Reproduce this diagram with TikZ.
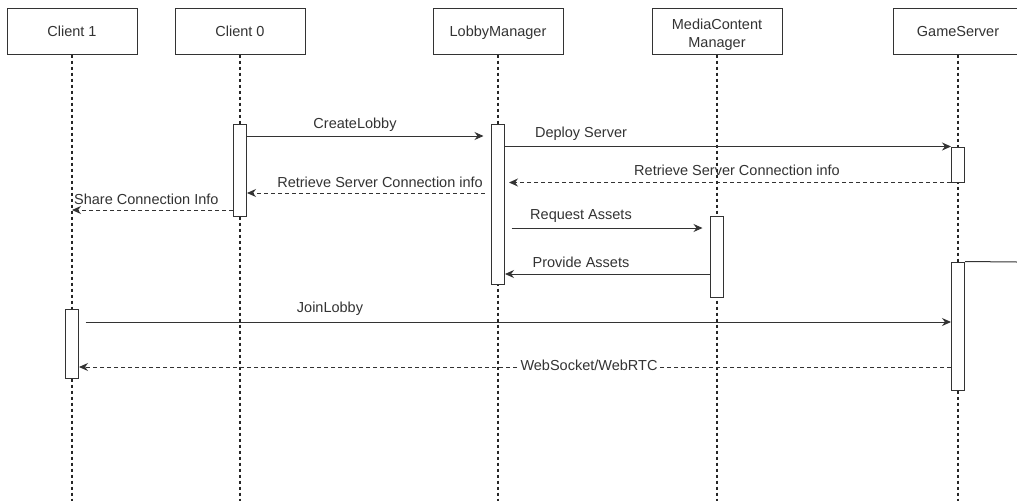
\documentclass[tikz,border=0pt]{standalone}
\usepackage{fontspec}
\setmainfont{Liberation Sans}
\usetikzlibrary{arrows.meta}
\begin{document}
\begin{tikzpicture}[x=1pt,y=-1pt,
  actor/.style={draw=black!80, line width=1pt, fill=white, minimum width=130pt,
    minimum height=46pt, inner sep=0pt, align=center,
    font=\fontsize{14.5}{18}\selectfont, text=black!80},
  oneline/.style={text height=13pt, text depth=3pt},
  lifeline/.style={draw=black!85, line width=1.1pt, dash pattern=on 3pt off 3pt},
  actbox/.style={draw=black!80, line width=1pt, fill=white, minimum width=13pt, inner sep=0pt},
  msg/.style={draw=black!80, line width=1pt, -{Stealth[length=9pt,width=8pt]}},
  reply/.style={msg, dash pattern=on 4pt off 3pt},
  lbl/.style={font=\fontsize{14.5}{17}\selectfont, text=black!80, inner sep=1pt},
]
\useasboundingbox (0,0) rectangle (1017,501);
\fill[white] (0,0) rectangle (1017,501);

% participants (single-line names share one baseline)
\node[actor, oneline] (c1) at (72,31) {Client 1};
\node[actor, oneline] (c0) at (240,31) {Client 0};
\node[actor, oneline] (lm) at (498,31) {LobbyManager};
\node[actor] (mc) at (717,31) {};
\node[font=\fontsize{14.5}{18}\selectfont, text=black!80, align=center, inner sep=0pt]
  (mcname) at (717,35) {MediaContent\\Manager};
\node[actor, oneline] (gs) at (958,31) {GameServer};

% lifelines
\foreach \p in {c1,c0,lm,mc,gs}
  \draw[lifeline] (\p.south) -- (\p |- 0,501);

% activation bars
\node[actbox, minimum height=92pt]  (act0)  at (240,170) {};
\node[actbox, minimum height=160pt] (actL)  at (498,204) {};
\node[actbox, minimum height=35pt]  (actG1) at (958,164.5) {};
\node[actbox, minimum height=81pt]  (actM)  at (717,256.5) {};
\node[actbox, minimum height=128pt] (actG2) at (958,326) {};
\node[actbox, minimum height=69pt]  (act1)  at (72,343.5) {};

% messages
\draw[msg, shorten >=7.5pt] (act0.east |- 0,136) -- (actL.west |- 0,136);
\node[lbl] (tCreate) at (355,125) {CreateLobby};

\draw[msg] (actL.east |- actG1.north west) -- (actG1.north west);
\node[lbl] (tDeploy) at (581,134) {Deploy Server};

\draw[reply, shorten >=4pt] (actG1.south west) -- (actL.east |- actG1.south west);
\node[lbl] (tRetR) at (737,170) {Retrieve Server Connection info};

\draw[reply, shorten <=6.5pt] (actL.west |- 0,193) -- (act0.east |- 0,193);
\node[lbl, anchor=east] (tRetL) at (484,182) {Retrieve Server Connection info};

\draw[reply] (act0.west |- 0,210) -- (c1 |- 0,210);
\node[lbl, anchor=west] (tShare) at (73,199) {Share Connection Info};

\draw[msg, shorten <=6.5pt, shorten >=7.5pt] (actL.east |- 0,228) -- (actM.west |- 0,228);
\node[lbl] (tReq) at (581,216) {Request Assets};

\draw[msg] (actM.west |- 0,274) -- (actL.east |- 0,274);
\node[lbl] (tProv) at (581,262) {Provide Assets};

\draw[msg, shorten <=6.5pt] (act1.east |- 0,322) -- (actG2.west |- 0,322);
\node[lbl] (tJoin) at (330,309) {JoinLobby};

\draw[reply] (actG2.west |- 0,367) -- (act1.east |- 0,367);
\node[lbl, fill=white] (tWeb) at (589,365) {WebSocket/WebRTC};

% outgoing line from the second GameServer activation
\coordinate (gsout) at (1017,262);
\draw[draw=black!80, line width=1pt] (actG2.north east) -- (gsout);
\end{tikzpicture}
\end{document}
